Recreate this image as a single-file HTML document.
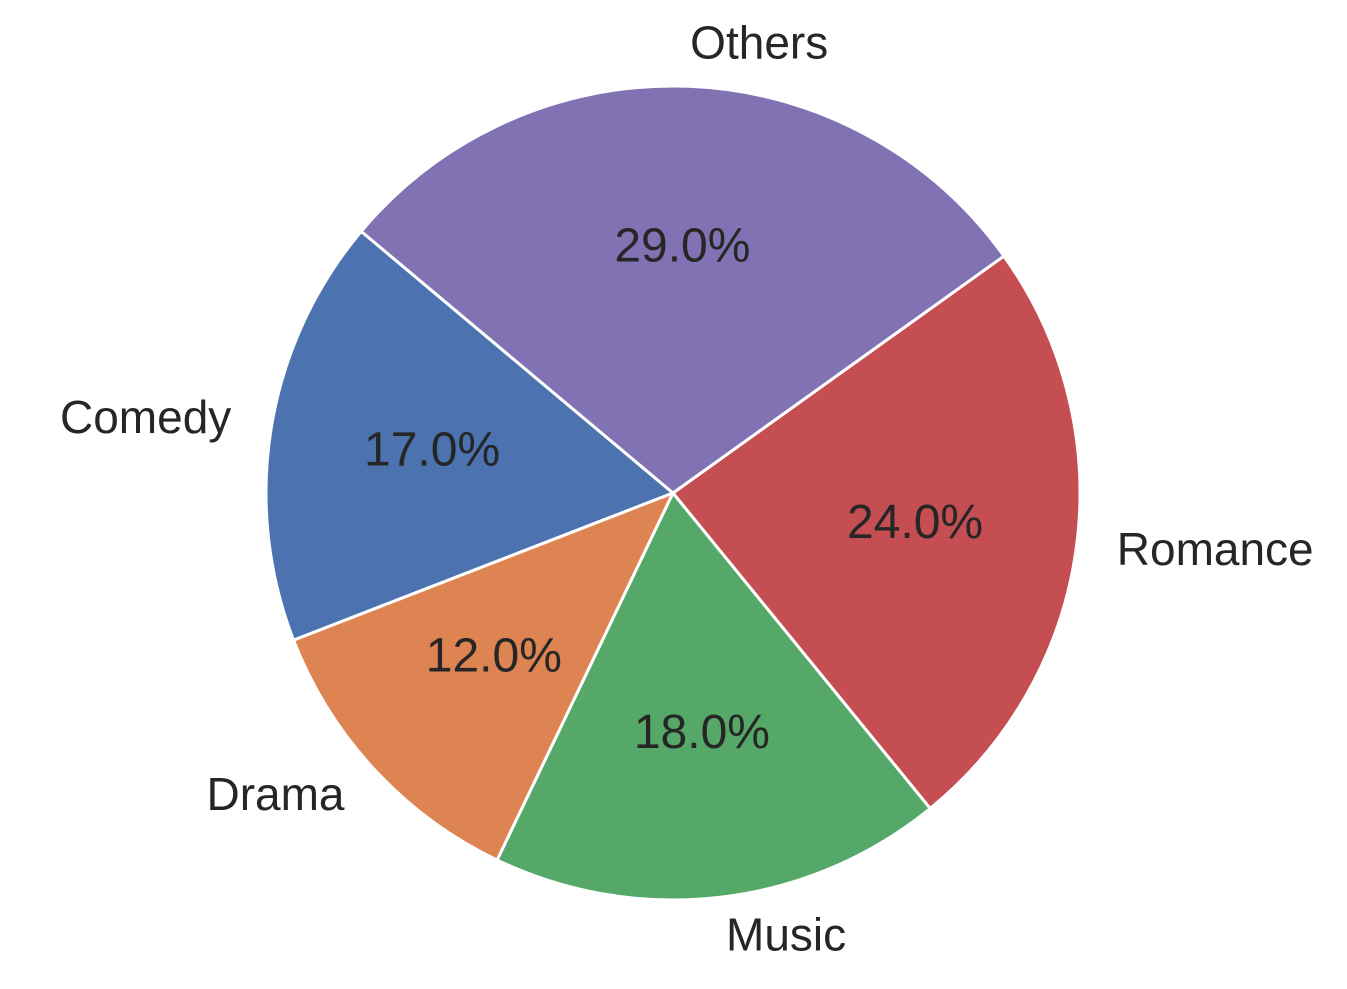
<!DOCTYPE html>
<html><head><meta charset="utf-8"><style>
html,body{margin:0;padding:0;background:#fff;}
svg{display:block;font-family:"Liberation Sans",Arial,sans-serif;}
</style></head><body>
<svg id="chart" width="1347" height="989"></svg>
<script>
const categories = ["Comedy","Drama","Music","Romance","Others"];
const values = [17,12,18,24,29];
const colors = ["#4c72b0","#dd8452","#55a868","#c44e52","#8172b3"];
const startAngle = 140;
const cx = 673, cy = 493, R = 407;
const svg = document.getElementById('chart');
const NS = 'http://www.w3.org/2000/svg';
const total = values.reduce((a,b)=>a+b,0);
function pt(deg, r){const a=deg*Math.PI/180;return [cx+r*Math.cos(a), cy-r*Math.sin(a)];}
let ang = startAngle;
values.forEach((v,i)=>{
  const sweep = v/total*360;
  const a0 = ang, a1 = ang+sweep;
  const p0 = pt(a0,R), p1 = pt(a1,R);
  const large = sweep>180?1:0;
  const path = document.createElementNS(NS,'path');
  path.setAttribute('d',`M${cx},${cy} L${p0[0]},${p0[1]} A${R},${R} 0 ${large} 0 ${p1[0]},${p1[1]} Z`);
  path.setAttribute('fill',colors[i]);
  path.setAttribute('stroke','#fff');
  path.setAttribute('stroke-width','3');
  path.setAttribute('stroke-linejoin','round');
  
  
  svg.appendChild(path);
  const mid = (a0+a1)/2;
  const lp = pt(mid, R*1.1);
  const lt = document.createElementNS(NS,'text');
  lt.setAttribute('x',lp[0]); lt.setAttribute('y',lp[1]-3);
  lt.setAttribute('text-anchor', lp[0]>=cx ? 'start':'end');
  lt.setAttribute('dominant-baseline','central');
  lt.setAttribute('font-size','46');
  lt.setAttribute('fill','#262626');
  lt.textContent = categories[i];
  
  
  svg.appendChild(lt);
  const pp = pt(mid, R*0.6);
  const pt2 = document.createElementNS(NS,'text');
  pt2.setAttribute('x',pp[0]); pt2.setAttribute('y',pp[1]-3);
  pt2.setAttribute('text-anchor','middle');
  pt2.setAttribute('dominant-baseline','central');
  pt2.setAttribute('font-size','48');
  pt2.setAttribute('fill','#262626');
  pt2.textContent = (v/total*100).toFixed(1)+'%';
  
  
  svg.appendChild(pt2);
  ang = a1;
});
</script>
</body></html>
